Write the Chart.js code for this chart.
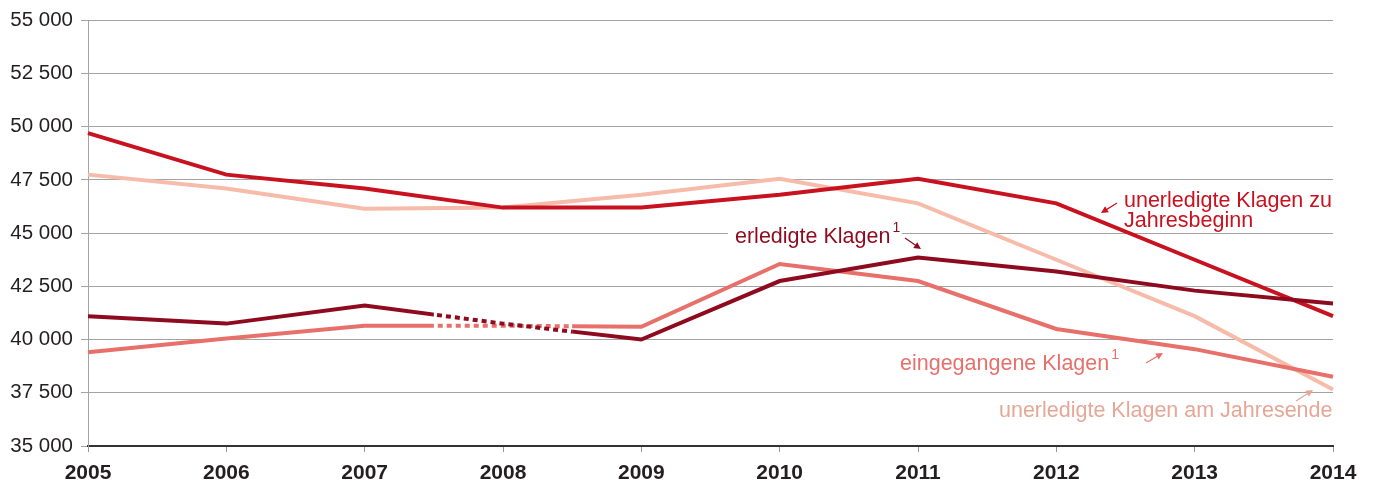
<!DOCTYPE html>
<html lang="de">
<head>
    <meta charset="UTF-8">
    <title>Klagen 2005–2014</title>
    <script src="https://cdn.jsdelivr.net/npm/chart.js"></script>
    <style>
        html, body {
            margin: 0;
            padding: 0;
            background: #fff;
        }
        #chartBox {
            width: 1376px;
            height: 486px;
        }
    </style>
</head>
<body>

<div id="chartBox">
    <canvas id="klagenChart" width="1376" height="486"></canvas>
</div>

<script>
    const years = ['2005', '2006', '2007', '2008', '2009', '2010', '2011', '2012', '2013', '2014'];

    const unerledigtBeginn = [49700, 47750, 47100, 46200, 46200, 46800, 47550, 46400, 43750, 41100];
    const unerledigtEnde   = [47750, 47100, 46150, 46200, 46800, 47550, 46400, 43750, 41100, 37650];
    const erledigt         = [41100, 40750, 41600, 40750, 40000, 42750, 43850, 43200, 42300, 41700];
    const eingegangen      = [39400, 40050, 40650, 40650, 40600, 43550, 42750, 40500, 39550, 38250];

    const yMin = 35000;
    const yMax = 55000;
    const yStep = 2500;

    const colBeginn = '#c8121f';
    const colEnde = '#f7bba9';
    const colErledigt = '#8e0b1f';
    const colEingang = '#e8706a';
    const colEndeText = '#e6a797';

    // 2008 values are estimated -> drawn dotted between the half-years
    function gapEdges(chart) {
        const xs = chart.scales.x;
        const a = (xs.getPixelForValue(2) + xs.getPixelForValue(3)) / 2;
        const b = (xs.getPixelForValue(3) + xs.getPixelForValue(4)) / 2;
        return [a, b];
    }

    const gapClip = {
        id: 'gapClip',
        beforeDatasetDraw(chart, args) {
            const ds = chart.data.datasets[args.index];
            if (!ds.clipPart) return;
            const ctx = chart.ctx;
            const [a, b] = gapEdges(chart);
            ctx.save();
            ctx.beginPath();
            if (ds.clipPart === 'outside') {
                ctx.rect(0, 0, a, chart.height);
                ctx.rect(b, 0, chart.width - b, chart.height);
            } else {
                ctx.rect(a, 0, b - a, chart.height);
            }
            ctx.clip();
        },
        afterDatasetDraw(chart, args) {
            const ds = chart.data.datasets[args.index];
            if (ds.clipPart) chart.ctx.restore();
        }
    };

    function arrow(ctx, x1, y1, x2, y2, color) {
        const ang = Math.atan2(y2 - y1, x2 - x1);
        ctx.strokeStyle = color;
        ctx.fillStyle = color;
        ctx.lineWidth = 1.2;
        ctx.beginPath();
        ctx.moveTo(x1, y1);
        ctx.lineTo(x2 - 4 * Math.cos(ang), y2 - 4 * Math.sin(ang));
        ctx.stroke();
        ctx.beginPath();
        ctx.moveTo(x2, y2);
        ctx.lineTo(x2 - 7 * Math.cos(ang) + 3.5 * Math.sin(ang), y2 - 7 * Math.sin(ang) - 3.5 * Math.cos(ang));
        ctx.lineTo(x2 - 7 * Math.cos(ang) - 3.5 * Math.sin(ang), y2 - 7 * Math.sin(ang) + 3.5 * Math.cos(ang));
        ctx.closePath();
        ctx.fill();
    }

    function label(ctx, text, x, y, color, sup) {
        ctx.font = '21.5px "Liberation Sans", Arial, sans-serif';
        ctx.fillStyle = color;
        ctx.textAlign = 'left';
        ctx.textBaseline = 'alphabetic';
        ctx.fillText(text, x, y);
        if (sup) {
            const w = ctx.measureText(text).width;
            ctx.font = '14px "Liberation Sans", Arial, sans-serif';
            ctx.fillText(sup, x + w + 2, y - 11);
        }
    }

    const annotations = {
        id: 'annotations',
        beforeDatasetsDraw(chart) {
            // white box under "erledigte Klagen" breaking the grid line
            const ctx = chart.ctx;
            ctx.save();
            ctx.fillStyle = '#fff';
            ctx.fillRect(728, 226, 174, 12);
            ctx.restore();
        },
        afterDraw(chart) {
            const ctx = chart.ctx;
            ctx.save();
            label(ctx, 'unerledigte Klagen zu', 1124, 207, colBeginn);
            label(ctx, 'Jahresbeginn', 1124, 227, colBeginn);
            arrow(ctx, 1117, 203, 1101, 213, colBeginn);

            label(ctx, 'erledigte Klagen', 735, 243, colErledigt, '1');
            arrow(ctx, 905, 238, 921, 249, colErledigt);

            label(ctx, 'eingegangene Klagen', 900, 370, colEingang, '1');
            arrow(ctx, 1146, 363, 1163, 353, colEingang);

            label(ctx, 'unerledigte Klagen am Jahresende', 999, 417, colEndeText);
            arrow(ctx, 1296, 401, 1313, 390, colEndeText);
            ctx.restore();
        }
    };

    function lineSet(data, color, extra) {
        return Object.assign({
            data: data,
            borderColor: color,
            backgroundColor: color,
            borderWidth: 4,
            pointRadius: 0,
            pointHoverRadius: 0,
            tension: 0,
            fill: false,
            borderCapStyle: 'butt',
            borderJoinStyle: 'miter'
        }, extra || {});
    }

    function formatTick(v) {
        return String(v).replace(/\B(?=(\d{3})+(?!\d))/g, ' ');
    }

    const ctx = document.getElementById('klagenChart').getContext('2d');

    new Chart(ctx, {
        type: 'line',
        data: {
            labels: years,
            datasets: [
                lineSet(erledigt, colErledigt, { clipPart: 'outside' }),
                lineSet(erledigt, colErledigt, { clipPart: 'inside', borderDash: [5, 4] }),
                lineSet(unerledigtBeginn, colBeginn),
                lineSet(eingegangen, colEingang, { clipPart: 'outside' }),
                lineSet(eingegangen, colEingang, { clipPart: 'inside', borderDash: [5, 4] }),
                lineSet(unerledigtEnde, colEnde)
            ]
        },
        options: {
            responsive: false,
            animation: false,
            layout: {
                padding: { left: 0, right: 43, top: 19, bottom: 0 }
            },
            plugins: {
                legend: { display: false },
                tooltip: { enabled: false }
            },
            scales: {
                x: {
                    offset: false,
                    afterFit(scale) { scale.height = 40; },
                    grid: {
                        drawOnChartArea: false,
                        drawTicks: true,
                        tickLength: 6,
                        color: '#999'
                    },
                    border: { color: '#333', width: 2 },
                    ticks: {
                        color: '#231f20',
                        padding: 9,
                        maxRotation: 0,
                        font: { family: '"Liberation Sans", Arial, sans-serif', size: 21, weight: 'bold' }
                    }
                },
                y: {
                    min: yMin,
                    max: yMax,
                    afterFit(scale) { scale.width = 88; },
                    grid: {
                        color: '#a3a3a3',
                        lineWidth: 1,
                        drawTicks: true,
                        tickLength: 7
                    },
                    border: { color: '#a3a3a3', width: 1 },
                    ticks: {
                        stepSize: yStep,
                        color: '#231f20',
                        padding: 8,
                        callback: (v) => formatTick(v),
                        font: { family: '"Liberation Sans", Arial, sans-serif', size: 20.5 }
                    }
                }
            }
        },
        plugins: [gapClip, annotations]
    });
</script>

</body>
</html>
